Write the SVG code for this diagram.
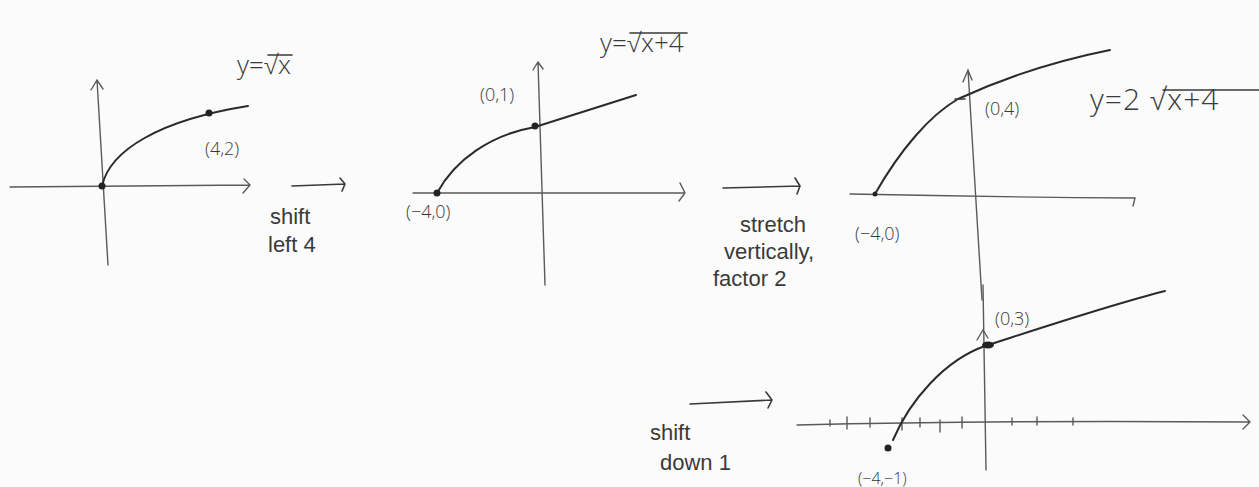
<svg xmlns="http://www.w3.org/2000/svg" width="1259" height="487" viewBox="0 0 1259 487">
<style>
.ln{fill:none;stroke:#3a3a3a;stroke-width:1.6;stroke-linecap:round;stroke-linejoin:round}
.cv{fill:none;stroke:#2a2a2a;stroke-width:2;stroke-linecap:round}
.ax{fill:none;stroke:#5a5a5a;stroke-width:1.4;stroke-linecap:round}
.t{font-family:"Open Sans","Liberation Sans",sans-serif;fill:#3a3a3a;font-weight:300}
.s{font-size:18px}
.e{font-size:26px}
.w{font-family:"Liberation Sans",sans-serif;font-weight:400;font-size:22px}
.d{fill:#222}
</style>
<rect width="1259" height="487" fill="#fbfbfb"/>

<g id="graph1">
<path class="ax" d="M10,187 L250,185 M244,179 L250,185 L243,193"/>
<path class="ax" d="M97,80 L108,265 M91,90 L97,80 L103,89"/>
<path class="cv" d="M102,186 C110,150 160,120 248,106"/>
<circle class="d" cx="102" cy="186" r="3.5"/>
<circle class="d" cx="209" cy="113" r="3.5"/>
<text class="t s" x="205" y="155">(4,2)</text>
<text class="t e" x="237" y="74">y=√x</text>
<line class="ln" x1="268" y1="55" x2="292" y2="55"/>
</g>

<g id="graph2">
<path class="ax" d="M413,193 L685,193 M680,183 L685,193 L679,201"/>
<path class="ax" d="M538,62 L545,285 M533,70 L538,62 L543,69"/>
<path class="cv" d="M437,193 C455,160 490,135 535,127 L636,95"/>
<circle class="d" cx="437" cy="193" r="3.5"/>
<circle class="d" cx="535" cy="126" r="3.5"/>
<text class="t s" x="480" y="101">(0,1)</text>
<text class="t s" x="406" y="218">(−4,0)</text>
<text class="t e" x="600" y="52">y=√x+4</text>
<line class="ln" x1="630" y1="33" x2="687" y2="33"/>
</g>

<g id="graph3">
<path class="ax" d="M850,194 Q990,197 1135,198 L1133,206"/>
<path class="ax" d="M968,70 L982,300 M963,82 L968,70 L972,80"/>
<path class="cv" d="M875,194 C900,150 930,115 958,99 C1010,75 1060,60 1110,50"/>
<path class="ln" d="M955,99 L965,99"/>
<circle class="d" cx="875" cy="194" r="2.5"/>
<text class="t s" x="985" y="115">(0,4)</text>
<text class="t s" x="855" y="240">(−4,0)</text>
<text class="t" x="1090" y="110" font-size="30" letter-spacing="1">y=2 √x+4</text>
<line class="ln" x1="1163" y1="90" x2="1259" y2="90"/>
</g>

<g id="graph4">
<path class="ax" d="M797,425 Q1000,420 1250,422 M1243,415 L1250,422 L1243,429"/>
<path class="ax" d="M983,285 L986,470"/>
<path class="ax" d="M830,420 L830,426 M847,417 L847,429 M870,418 L870,427 M902,418 L902,430 M920,418 L920,427 M940,420 L940,432 M962,417 L962,428 M1012,418 L1012,425 M1037,417 L1037,425 M1073,418 L1073,425"/>
<path class="ax" d="M977,340 L983,330 L988,338"/>
<path class="cv" d="M893,440 C910,400 945,360 985,346 C1050,325 1110,305 1165,291"/>
<circle class="d" cx="888" cy="448" r="3.5"/>
<ellipse class="d" cx="988" cy="345" rx="6" ry="3.5"/>
<text class="t s" x="995" y="325">(0,3)</text>
<text class="t" x="858" y="484" font-size="16">(−4,−1)</text>
</g>

<g id="connectors">
<path class="ln" d="M292,186 L345,184 M340,178 L345,184 L342,191"/>
<text class="t w" x="270" y="224">shift</text>
<text class="t w" x="268" y="252">left 4</text>
<path class="ln" d="M723,188 L800,186 M795,178 L800,186 L797,194"/>
<text class="t w" x="740" y="232">stretch</text>
<text class="t w" x="724" y="259">vertically,</text>
<text class="t w" x="713" y="286">factor 2</text>
<path class="ln" d="M690,404 L772,400 M766,392 L772,400 L768,408"/>
<text class="t w" x="650" y="440">shift</text>
<text class="t w" x="660" y="470">down 1</text>
</g>
</svg>
